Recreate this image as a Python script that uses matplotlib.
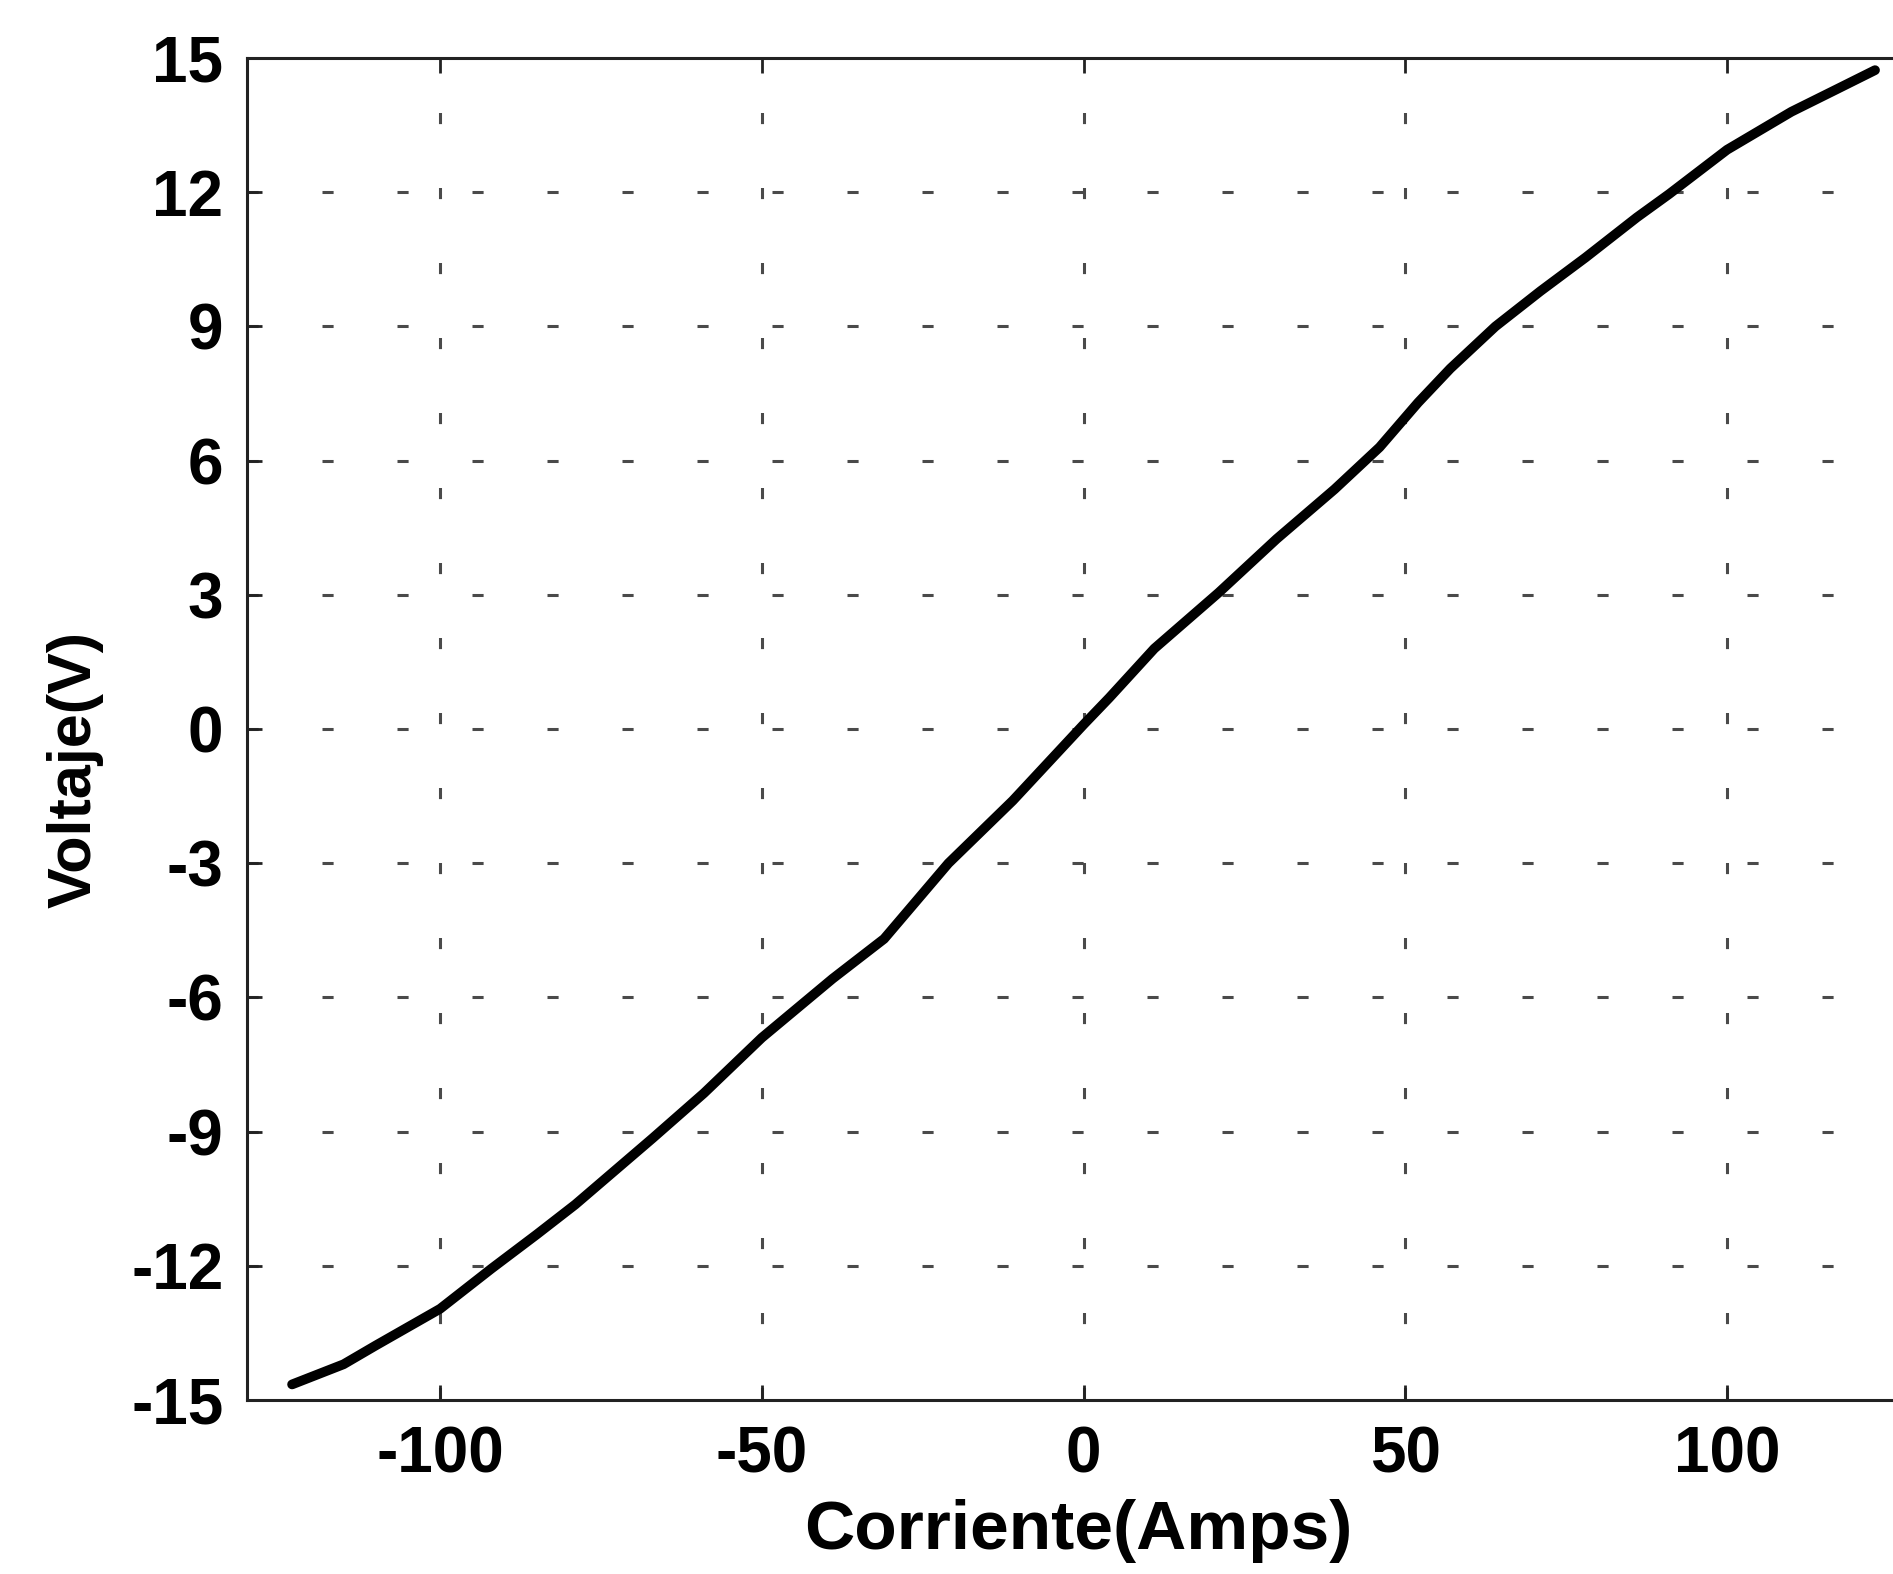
import matplotlib
matplotlib.use("Agg")
import matplotlib.pyplot as plt

# curva: corriente (A) vs voltaje (V)
corriente = [-123, -115, -110, -100, -92, -85, -79, -67, -59, -50, -39, -31,
             -21, -11, 0, 4, 11, 21, 30, 39, 46, 52, 57, 64, 71, 78, 86, 91,
             100, 110, 117, 123]
voltaje = [-14.65, -14.2, -13.78, -12.96, -12.06, -11.3, -10.63, -9.15,
           -8.14, -6.9, -5.58, -4.69, -3.0, -1.6, 0.1, 0.7, 1.8, 3.05, 4.25,
           5.36, 6.3, 7.3, 8.06, 9.0, 9.79, 10.54, 11.44, 11.96, 12.95, 13.8,
           14.3, 14.73]

x_ticks = [-100, -50, 0, 50, 100]
y_ticks = [-15, -12, -9, -6, -3, 0, 3, 6, 9, 12, 15]


def main():
    plt.rcParams['font.family'] = ['Liberation Sans', 'DejaVu Sans']
    plt.rcParams['font.weight'] = 'bold'
    plt.rcParams['lines.scale_dashes'] = False
    plt.rcParams['axes.unicode_minus'] = False

    fig = plt.figure(figsize=(18.93, 15.74), dpi=100)
    ax = fig.add_axes([0.1305, 0.1105, 0.8838, 0.8526])

    ax.plot(corriente, voltaje, color='black', lw=7,
            solid_capstyle='round', solid_joinstyle='round', zorder=3)

    ax.set_xlim(-130, 130)
    ax.set_ylim(-15, 15)
    ax.set_xticks(x_ticks)
    ax.set_yticks(y_ticks)

    # rejilla punteada tipo matlab
    for xv in x_ticks:
        ax.axvline(xv, color='#4a4a4a', lw=2.2, ls=(53, (8, 46)), zorder=1)
    for yv in y_ticks[1:-1]:
        ax.axhline(yv, color='#4a4a4a', lw=2.2, ls=(0, (8, 46)), zorder=1)

    for side in ['left', 'top', 'bottom', 'right']:
        ax.spines[side].set_linewidth(2.2)
        ax.spines[side].set_color('#222222')

    ax.tick_params(direction='in', length=11, width=2, top=True, right=True,
                   labelsize=46, colors='#222222', labelcolor='black')
    ax.tick_params(axis='y', pad=17)
    ax.tick_params(axis='x', pad=18)

    ax.set_xlabel('Corriente(Amps)', fontsize=50, fontweight='bold', va='center')
    ax.xaxis.set_label_coords(0.497, -0.0976)
    ax.set_ylabel('Voltaje(V)', fontsize=44, fontweight='bold', va='center')
    ax.yaxis.set_label_coords(-0.103, 0.47)

    fig.savefig('out.png', dpi=100)


if __name__ == "__main__":
    main()
